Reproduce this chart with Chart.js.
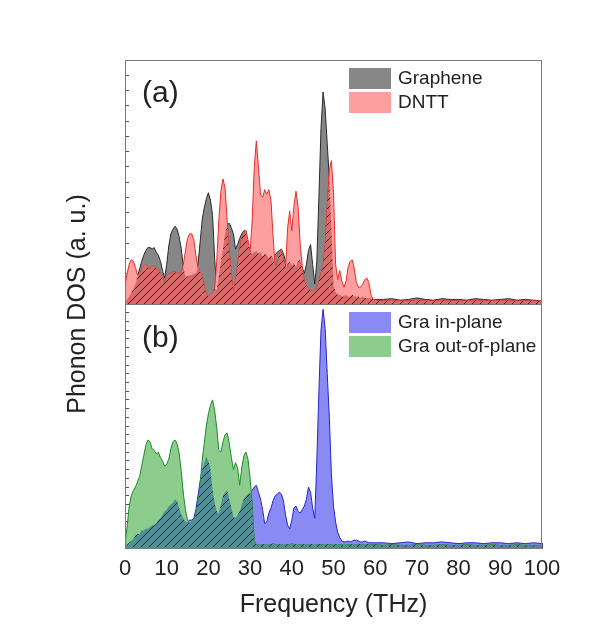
<!DOCTYPE html>
<html>
<head>
<meta charset="utf-8">
<script src="https://cdn.jsdelivr.net/npm/chart.js@4"></script>
<style>
  html, body { margin: 0; padding: 0; background: #fff; }
  #wrap { position: relative; width: 603px; height: 632px; }
</style>
</head>
<body>
<div id="wrap"><canvas id="dos" width="603" height="632"></canvas></div>
<script>
// frequency grid (THz): 0.5 steps up to 60, then 2 THz steps
const freq = [
  0,0.5,1,1.5,2,2.5,3,3.5,4,4.5,
  5,5.5,6,6.5,7,7.5,8,8.5,9,9.5,
  10,10.5,11,11.5,12,12.5,13,13.5,14,14.5,
  15,15.5,16,16.5,17,17.5,18,18.5,19,19.5,
  20,20.5,21,21.5,22,22.5,23,23.5,24,24.5,
  25,25.5,26,26.5,27,27.5,28,28.5,29,29.5,
  30,30.5,31,31.5,32,32.5,33,33.5,34,34.5,
  35,35.5,36,36.5,37,37.5,38,38.5,39,39.5,
  40,40.5,41,41.5,42,42.5,43,43.5,44,44.5,
  45,45.5,46,46.5,47,47.5,48,48.5,49,49.5,
  50,50.5,51,51.5,52,52.5,53,53.5,54,54.5,
  55,55.5,56,56.5,57,57.5,58,58.5,59,59.5,
  60,
  62,64,66,68,70,72,74,76,78,80,82,84,86,88,90,92,94,96,98,100
];

// panel (a)
const graphene = [
  0.0,0.3,0.5,0.7,1.0,1.3,1.8,2.3,2.8,3.2,
  3.5,3.7,3.7,3.6,3.7,3.4,3.2,2.8,2.2,1.7,
  2.6,3.8,4.6,4.9,5.1,4.9,4.4,3.6,2.4,1.8,
  1.8,1.9,1.9,2.0,2.0,2.6,4.0,5.5,6.3,6.9,
  7.3,6.8,5.8,3.0,0.9,1.8,2.8,3.6,4.6,5.2,
  5.3,5.0,4.6,3.6,3.9,4.3,4.6,4.8,4.8,4.0,
  3.4,3.3,3.4,3.5,3.3,3.4,3.1,3.3,3.2,3.0,
  3.2,3.0,3.2,3.4,3.5,3.6,3.3,2.8,2.6,2.8,
  2.5,2.7,2.4,2.8,2.9,2.4,2.0,2.6,3.5,3.9,
  2.6,1.3,2.8,7.0,11.5,13.9,12.8,10.5,8.2,5.0,
  1.2,0.8,0.6,0.6,0.5,0.5,0.6,0.5,0.5,0.6,
  0.5,0.5,0.5,0.4,0.5,0.4,0.4,0.4,0.4,0.3,
  0.3,
  0.3,0.35,0.25,0.3,0.4,0.3,0.25,0.35,0.3,0.3,0.25,0.35,0.3,0.25,0.3,0.35,0.25,0.3,0.25,0.2
];
const dntt = [
  1.2,2.0,2.6,2.9,2.8,2.4,1.9,2.0,2.3,2.5,
  2.6,2.4,2.3,2.5,2.5,2.3,2.2,2.0,1.7,1.4,
  1.8,2.0,2.0,2.1,2.1,2.0,2.0,2.1,2.6,3.5,
  4.3,4.6,4.6,4.2,3.2,2.4,2.1,1.8,1.2,0.6,
  0.5,0.6,0.7,1.0,2.8,5.5,7.4,8.2,7.6,5.5,
  3.5,2.0,0.8,1.6,2.6,3.6,4.4,4.7,4.8,4.2,
  3.4,5.5,9.0,10.7,9.0,7.2,7.0,7.5,7.2,7.5,
  6.8,4.5,2.5,2.6,3.2,3.6,3.0,2.4,5.0,6.1,
  4.8,6.4,7.4,6.4,4.0,2.5,1.5,1.2,1.0,0.9,
  0.8,0.9,1.0,1.5,2.0,2.5,3.8,6.5,8.8,9.4,
  7.3,2.6,1.6,2.2,1.5,1.1,1.5,2.4,2.8,2.9,
  2.3,1.4,1.1,1.1,1.3,1.6,1.7,1.4,0.6,0.3,
  0.25,
  0.2,0.25,0.2,0.2,0.25,0.2,0.2,0.25,0.2,0.2,0.2,0.25,0.2,0.2,0.25,0.2,0.2,0.2,0.2,0.2
];

// panel (b)
const inPlane = [
  0.0,0.2,0.3,0.4,0.5,0.7,0.8,0.8,1.0,1.0,
  1.1,1.1,1.2,1.3,1.3,1.4,1.6,1.7,1.9,2.1,
  2.2,2.4,2.5,2.6,2.8,2.7,2.3,1.9,1.7,1.5,
  1.5,1.6,1.6,1.7,2.2,3.0,3.8,4.5,4.9,5.2,
  5.0,4.5,3.3,2.6,2.1,2.0,2.5,3.0,3.2,3.3,
  2.8,2.3,1.8,1.7,1.9,2.1,2.5,2.8,3.0,3.1,
  3.2,3.3,3.5,3.6,3.2,2.8,2.2,1.4,1.5,2.0,
  2.3,2.7,3.0,3.1,3.2,3.1,2.7,1.9,1.3,1.1,
  1.6,2.3,2.4,2.1,2.0,2.2,2.4,2.8,3.5,3.2,
  2.3,1.7,5.0,9.0,12.5,13.7,12.6,10.0,7.5,4.2,
  2.4,1.5,0.9,0.6,0.4,0.35,0.35,0.4,0.35,0.4,
  0.45,0.45,0.4,0.35,0.35,0.4,0.35,0.3,0.3,0.3,
  0.3,
  0.3,0.25,0.3,0.35,0.25,0.3,0.3,0.35,0.3,0.25,0.3,0.3,0.25,0.3,0.3,0.25,0.3,0.25,0.3,0.25
];
const outPlane = [
  0.3,1.2,2.4,3.0,3.3,3.5,3.8,4.1,4.7,5.3,
  5.9,6.2,6.1,5.7,5.6,5.4,5.5,5.2,5.0,4.7,
  4.8,5.1,5.7,6.1,6.2,6.0,5.4,4.4,3.1,2.2,
  1.6,1.4,1.5,1.6,1.9,2.6,3.6,5.0,6.0,7.0,
  7.7,8.2,8.5,7.9,6.9,5.6,5.5,6.1,6.5,6.6,
  6.0,5.2,4.5,4.9,4.6,3.6,4.6,5.3,5.5,5.1,
  4.0,2.6,0.4,0.2,0.2,0.15,0.2,0.2,0.15,0.2,
  0.2,0.25,0.2,0.15,0.2,0.2,0.15,0.2,0.2,0.2,
  0.25,0.2,0.2,0.15,0.2,0.2,0.2,0.15,0.2,0.2,
  0.2,0.15,0.2,0.2,0.2,0.2,0.15,0.2,0.2,0.2,
  0.15,0.2,0.2,0.2,0.2,0.15,0.2,0.2,0.2,0.2,
  0.15,0.2,0.2,0.2,0.2,0.15,0.2,0.2,0.2,0.2,
  0.2,
  0.15,0.2,0.15,0.15,0.2,0.15,0.15,0.2,0.15,0.15,0.2,0.15,0.15,0.2,0.15,0.15,0.2,0.15,0.15,0.15
];

const FONT = '"Liberation Sans", Arial, sans-serif';
const TEXT = '#222';
const FRAME = '#7a7a7a';

// diagonal hatch fill for the overlapping part of the two curves
function hatch(base, line) {
  const c = document.createElement('canvas');
  c.width = 8; c.height = 8;
  const g = c.getContext('2d');
  g.fillStyle = base;
  g.fillRect(0, 0, 8, 8);
  g.strokeStyle = line;
  g.lineWidth = 1;
  g.beginPath();
  g.moveTo(0, 8); g.lineTo(8, 0);
  g.moveTo(-1, 1); g.lineTo(1, -1);
  g.moveTo(7, 9); g.lineTo(9, 7);
  g.stroke();
  return g.createPattern(c, 'repeat');
}

const pts = ys => freq.map((f, i) => ({ x: f, y: ys[i] }));
const overlap = (a, b) => a.map((v, i) => Math.min(v, b[i]));

function curve(label, ys, axis, fillCol, lineCol, order) {
  return {
    label: label, data: pts(ys), yAxisID: axis,
    backgroundColor: fillCol, borderColor: lineCol, borderWidth: 1,
    fill: 'origin', pointRadius: 0, tension: 0, order: order
  };
}

const ctx = document.getElementById('dos').getContext('2d');

const datasets = [
  curve('Graphene', graphene, 'ya', '#878787', '#2a2a2a', 3),
  curve('DNTT', dntt, 'ya', '#ff9e9e', '#e82c2c', 2),
  Object.assign(curve('', overlap(graphene, dntt), 'ya', hatch('#d96a6a', '#4a1414'), 'rgba(0,0,0,0)', 1), { borderWidth: 0 }),
  curve('Gra in-plane', inPlane, 'yb', '#8a8af4', '#2626c8', 3),
  curve('Gra out-of-plane', outPlane, 'yb', '#8ccc8c', '#1f8a2a', 2),
  Object.assign(curve('', overlap(inPlane, outPlane), 'yb', hatch('#4f8f97', '#10303a'), 'rgba(0,0,0,0)', 1), { borderWidth: 0 })
];

// legend entries per panel (dataset indices)
const legendA = [0, 1];
const legendB = [3, 4];

const decor = {
  id: 'decor',
  afterDraw(chart) {
    const { ctx, chartArea: ca, scales } = chart;
    const ya = scales.ya, yb = scales.yb;
    ctx.save();
    ctx.strokeStyle = FRAME;
    ctx.lineWidth = 1;
    ctx.strokeRect(ca.left + 0.5, ca.top + 0.5, ca.width - 1, ca.height - 1);
    const mid = Math.round(ya.bottom) + 0.5;
    ctx.beginPath(); ctx.moveTo(ca.left, mid); ctx.lineTo(ca.right, mid); ctx.stroke();

    ctx.fillStyle = TEXT;
    ctx.textAlign = 'left';
    ctx.textBaseline = 'middle';
    ctx.font = '30px ' + FONT;
    ctx.fillText('(a)', ca.left + 17, ya.top + 34);
    ctx.fillText('(b)', ca.left + 17, yb.top + 35);

    ctx.font = '19px ' + FONT;
    [[legendA, ya], [legendB, yb]].forEach(([ids, sc]) => {
      ids.forEach((di, k) => {
        const ds = chart.data.datasets[di];
        const y0 = sc.top + 8 + k * 24;
        ctx.fillStyle = ds.backgroundColor;
        ctx.fillRect(ca.left + 224, y0, 42, 21);
        ctx.fillStyle = TEXT;
        ctx.fillText(ds.label, ca.left + 273, y0 + 11);
      });
    });

    ctx.translate(78, (ya.top + yb.bottom) / 2);
    ctx.rotate(-Math.PI / 2);
    ctx.textAlign = 'center';
    ctx.font = '25px ' + FONT;
    ctx.fillText('Phonon DOS (a. u.)', 0, 0);
    ctx.restore();
  }
};

const yAxis = (max, step) => ({
  type: 'linear', position: 'left', stack: 'panels', stackWeight: 1,
  min: 0, max: max,
  ticks: { stepSize: step, display: false },
  grid: { drawOnChartArea: false, tickLength: -4, color: '#555' },
  border: { color: FRAME },
  afterFit: s => { s.width = 0; }
});

new Chart(ctx, {
  type: 'line',
  data: { datasets: datasets },
  plugins: [decor],
  options: {
    responsive: false,
    animation: false,
    events: [],
    layout: { padding: { left: 125, right: 61, top: 60, bottom: 0 } },
    plugins: { legend: { display: false }, tooltip: { enabled: false } },
    scales: {
      x: {
        type: 'linear', position: 'bottom', min: 0, max: 100,
        ticks: {
          stepSize: 5, autoSkip: false, maxRotation: 0, padding: 13,
          color: TEXT, font: { family: FONT, size: 22 },
          callback: v => (v % 10 === 0 ? v : '')
        },
        grid: { drawOnChartArea: false, tickLength: -5, color: '#555' },
        border: { color: FRAME },
        title: {
          display: true, text: 'Frequency (THz)', color: TEXT,
          font: { family: FONT, size: 25 }, padding: { top: 0, bottom: 12 }
        },
        afterFit: s => { s.height = 84; }
      },
      // stacked panels: the axis listed first is placed lowest
      yb: yAxis(14, 0.5),
      ya: yAxis(16, 1)
    }
  }
});
</script>
</body>
</html>
